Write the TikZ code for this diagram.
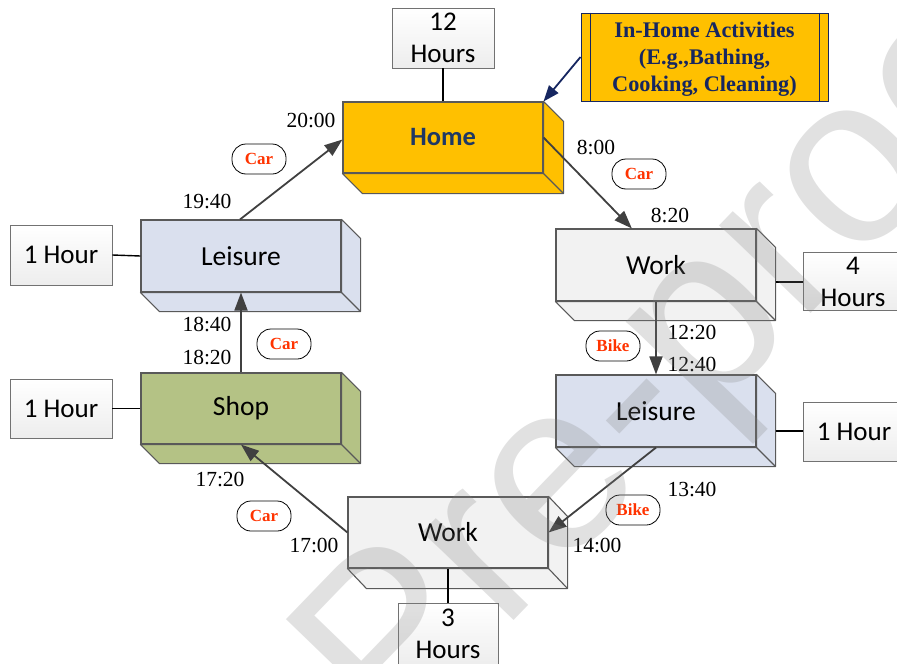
\documentclass[tikz,border=0pt]{standalone}
\usepackage{fontspec}
\setmainfont{Liberation Serif}
\newfontfamily\labelfont{Carlito}
\newfontfamily\markfont{Liberation Sans}
\usetikzlibrary{arrows.meta,calc}

\definecolor{homefill}{RGB}{255,192,0}
\definecolor{workfill}{RGB}{242,242,242}
\definecolor{leisurefill}{RGB}{218,224,238}
\definecolor{shopfill}{RGB}{180,194,133}
\definecolor{edgegray}{RGB}{89,89,89}
\definecolor{hometext}{RGB}{31,56,100}
\definecolor{calloutnavy}{RGB}{22,38,96}
\definecolor{modered}{RGB}{255,51,0}
\definecolor{arrowgray}{RGB}{64,64,64}

\tikzset{
  facebox/.style={draw=edgegray, line width=1.1pt, minimum width=200pt,
    minimum height=71pt, inner sep=0pt, font=\labelfont\fontsize{27.5}{30}\selectfont},
  hourbox/.style={draw=edgegray!85, top color=white, bottom color=black!7, line width=0.9pt,
    inner sep=0pt, align=center, font=\labelfont\fontsize{27}{32}\selectfont},
  flow/.style={draw=arrowgray, line width=1.8pt, -{Triangle[length=18pt,width=13pt]}},
  tie/.style={draw=black, line width=1.4pt},
  timelbl/.style={font=\fontsize{21.5}{24}\selectfont, inner sep=0pt},
  mode/.style={draw=black, line width=0.8pt, rounded corners=14pt, minimum width=54pt,
    minimum height=30pt, inner sep=0pt, text=modered, font=\bfseries\fontsize{17}{20}\selectfont},
}

% side and bottom faces of an extruded box: node name, fill, depth x, depth y
\newcommand\boxdepth[4]{%
  \filldraw[fill=#2, draw=edgegray, line width=1.1pt, line join=round]
    (#1.north east) -- ($(#1.north east)+(#3,#4)$) -- ($(#1.south east)+(#3,#4)$)
    -- ($(#1.south west)+(#3,#4)$) -- (#1.south west) -- (#1.south east) -- cycle;
  \draw[edgegray, line width=1.1pt] (#1.south east) -- ($(#1.south east)+(#3,#4)$);
}

\begin{document}
\begin{tikzpicture}[x=1pt, y=-1pt]
\useasboundingbox (0,0) rectangle (897,664);

% activity boxes
\node[facebox, fill=homefill, text=hometext, font=\labelfont\bfseries\fontsize{26.5}{30}\selectfont]
  (home) at (443,137.5) {Home};
\boxdepth{home}{homefill}{20}{20}
\node[facebox, fill=workfill, minimum height=72pt] (workR) at (656,265) {Work};
\boxdepth{workR}{workfill}{19}{19}
\node[facebox, fill=leisurefill, minimum height=72pt] (leisR) at (656,411) {Leisure};
\boxdepth{leisR}{leisurefill}{19}{19}
\node[facebox, fill=workfill] (workB) at (448,532.5) {Work};
\boxdepth{workB}{workfill}{19}{20}
\node[facebox, fill=shopfill] (shop) at (241,408.5) {Shop};
\boxdepth{shop}{shopfill}{19}{19}
\node[facebox, fill=leisurefill, minimum height=72pt] (leisL) at (241,256) {Leisure};
\boxdepth{leisL}{leisurefill}{19}{19}

% durations
\node[hourbox, minimum width=102pt, minimum height=60pt] (twelve) at (443,38) {12\\Hours};
\node[hourbox, minimum width=100pt, minimum height=58pt] (fourh) at (853,281.5) {4\\Hours};
\node[hourbox, minimum width=102pt, minimum height=59pt] (oneR) at (854,431.5) {1 Hour};
\node[hourbox, minimum width=102pt, minimum height=60pt] (oneL1) at (61,255) {1 Hour};
\node[hourbox, minimum width=102pt, minimum height=59pt] (oneL2) at (61,408.5) {1 Hour};
\node[hourbox, minimum width=100pt, minimum height=62pt] (threeB) at (448,634) {3\\Hours};

\coordinate (wrside) at ($(workR.east)+(19,17)$);
\coordinate (lrside) at ($(leisR.east)+(19,20)$);
\draw[tie] (home.north) -- (twelve.south);
\draw[tie] (wrside) -- (wrside -| fourh.west);
\draw[tie] (lrside) -- (lrside -| oneR.west);
\draw[tie] (oneL1.east) -- (leisL.west);
\draw[tie] (oneL2.east) -- (shop.west);
\draw[tie] (workB.south) -- (threeB.north);

% trips
\coordinate (workin) at ($(workR.north west)!0.38!(workR.north east)$);
\draw[flow] (home.east) -- (workin);
\draw[flow] (workR.south) -- (leisR.north);
\draw[flow] (leisR.south) -- (workB.east);
\draw[flow] (workB.west) -- (shop.south);
\draw[flow] (shop.north) -- (leisL.south);
\draw[flow] ($(leisL.north)+(-1,0)$) -- ($(home.west)+(0,2)$);

% in-home activities callout
\node[draw=calloutnavy, fill=homefill, line width=1pt, minimum width=247pt, minimum height=88pt,
  inner sep=0pt, align=center, text=calloutnavy] (callout) at (704.5,57) {};
\node[text=calloutnavy, align=center, inner sep=0pt,
  font=\bfseries\fontsize{22.3}{27}\selectfont] (callouttext) at (704.5,59)
  {In-Home Activities\\(E.g.,Bathing,\\Cooking, Cleaning)};
\draw[calloutnavy, line width=1pt] ($(callout.north west)+(10,0)$) -- ($(callout.south west)+(10,0)$);
\draw[calloutnavy, line width=1pt] ($(callout.north east)+(-9,0)$) -- ($(callout.south east)+(-9,0)$);
\draw[calloutnavy, line width=1.8pt, -{Triangle[length=16pt,width=12pt]}]
  (callout.west) -- (home.north east);

% clock times
\node[timelbl] (t2000) at (311,121) {20:00};
\node[timelbl] (t1940) at (207,201) {19:40};
\node[timelbl] (t0800) at (596,147) {8:00};
\node[timelbl] (t0820) at (670,215) {8:20};
\node[timelbl] (t1220) at (692,332) {12:20};
\node[timelbl] (t1240) at (692,364) {12:40};
\node[timelbl] (t1340) at (692,489) {13:40};
\node[timelbl] (t1400) at (597,545) {14:00};
\node[timelbl] (t1700) at (314,545) {17:00};
\node[timelbl] (t1720) at (220,479) {17:20};
\node[timelbl] (t1840) at (207,324) {18:40};
\node[timelbl] (t1820) at (207,357) {18:20};

% travel modes
\node[mode] (m1) at (259,159) {Car};
\node[mode] (m2) at (639,174) {Car};
\node[mode] (m3) at (613,346) {Bike};
\node[mode] (m4) at (633,510) {Bike};
\node[mode] (m5) at (264,516) {Car};
\node[mode] (m6) at (284,344) {Car};

% watermark
\node[anchor=base east, rotate=46, text=gray, opacity=0.24, inner sep=0pt,
  font=\markfont\fontsize{240}{240}\selectfont] (wm) at (1087,28) {Journal Pre-proof};
\end{tikzpicture}
\end{document}
